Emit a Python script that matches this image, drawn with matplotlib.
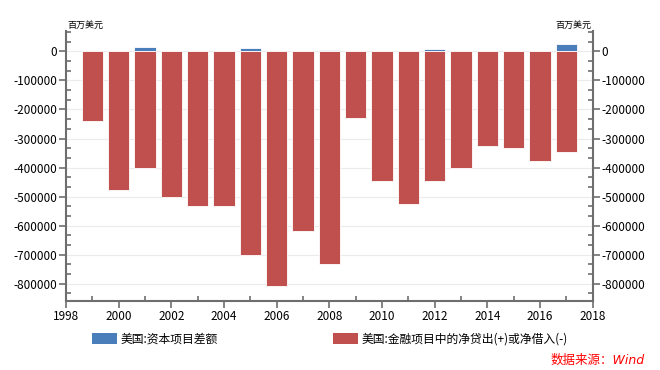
import matplotlib
matplotlib.use("Agg")
import matplotlib.pyplot as plt
from matplotlib.patches import Patch
from matplotlib.ticker import MultipleLocator, FuncFormatter

plt.rcParams['font.family'] = ['Noto Sans CJK SC', 'DejaVu Sans']
plt.rcParams['axes.unicode_minus'] = False

years = [1999, 2000, 2001, 2002, 2003, 2004, 2005, 2006, 2007, 2008,
         2009, 2010, 2011, 2012, 2013, 2014, 2015, 2016, 2017]
capital_account = [-4200, -1, 13800, -141, -1821, 3049, 13116, -1788, 384, 6010,
                   -140, -157, -1186, 6904, -412, -45, -42, -59, 25000]
net_lending = [-239000, -476000, -400000, -500000, -534000, -534000, -701000, -809000, -618000, -732000,
               -228000, -445000, -525000, -446000, -401000, -324000, -332000, -377000, -347000]

label_cap = '美国:资本项目差额'
label_net = '美国:金融项目中的净贷出(+)或净借入(-)'
unit = '百万美元'
source = '数据来源：Wind'

blue = '#4A7EBB'
red = '#C0504D'
axc = '#6E6E6E'

fig = plt.figure(figsize=(6.6, 3.7), dpi=100)
ax = fig.add_axes([0.1, 0.186, 0.798, 0.730])

ax.bar(years, capital_account, width=0.82, color=blue, edgecolor='white', linewidth=0.6, zorder=2)
ax.bar(years, net_lending, width=0.82, color=red, edgecolor='white', linewidth=0.6, zorder=3)

ax.set_xlim(1998, 2018)
ax.set_ylim(-860000, 70000)
ax.xaxis.set_major_locator(MultipleLocator(2))
ax.xaxis.set_minor_locator(MultipleLocator(1))
ax.yaxis.set_major_locator(MultipleLocator(100000))
ax.yaxis.set_minor_locator(MultipleLocator(100000 / 3))
ax.yaxis.set_major_formatter(FuncFormatter(lambda v, p: f'{int(round(v))}'))

ax.grid(axis='y', which='major', color='#EBEBEB', linewidth=0.8, zorder=0)
ax.set_axisbelow(True)

for s in ['left', 'right', 'bottom']:
    ax.spines[s].set_color(axc)
    ax.spines[s].set_linewidth(1.5)
ax.spines['top'].set_visible(False)

ax.tick_params(axis='y', which='both', left=True, right=True, labelleft=True, labelright=True,
               colors=axc, labelcolor='black', labelsize=8.5)
ax.tick_params(axis='x', which='both', colors=axc, labelcolor='black', labelsize=8.5)
ax.tick_params(which='major', direction='out', length=5, width=1.2, pad=1.5)
ax.tick_params(which='minor', direction='in', length=3.5, width=1.2)

fig.text(0.102, 0.918, unit, fontsize=6.5, ha='left', va='bottom')
fig.text(0.896, 0.918, unit, fontsize=6.5, ha='right', va='bottom')

fig.legend(handles=[Patch(facecolor=blue, edgecolor='none')], labels=[label_cap],
           loc='center left', bbox_to_anchor=(0.139, 0.084), frameon=False,
           fontsize=8.5, handlelength=2.1, handleheight=1.1, handletextpad=0.3,
           borderpad=0, borderaxespad=0)
fig.legend(handles=[Patch(facecolor=red, edgecolor='none')], labels=[label_net],
           loc='center left', bbox_to_anchor=(0.505, 0.084), frameon=False,
           fontsize=8.5, handlelength=2.1, handleheight=1.1, handletextpad=0.3,
           borderpad=0, borderaxespad=0)

fig.text(0.977, 0.027, source, fontsize=9, color='#FF0000', style='italic',
         family=['DejaVu Sans', 'Noto Sans CJK SC'], ha='right', va='center')

fig.savefig('out.png', dpi=100)
